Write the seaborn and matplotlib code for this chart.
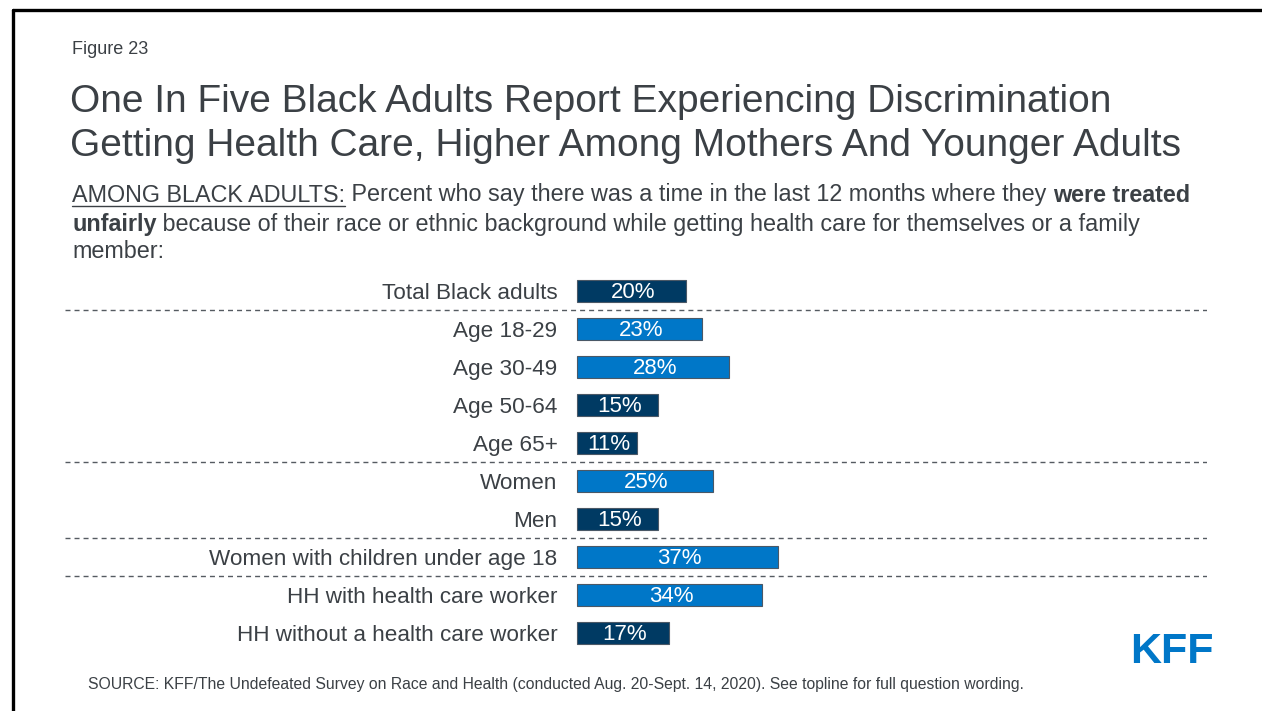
import matplotlib
matplotlib.use("Agg")
import matplotlib.pyplot as plt
from matplotlib.lines import Line2D
import seaborn as sns
import pandas as pd

# Survey results
categories = [
    "Total Black adults", "Age 18-29", "Age 30-49", "Age 50-64", "Age 65+",
    "Women", "Men", "Women with children under age 18",
    "HH with health care worker", "HH without a health care worker",
]
values = [20, 23, 28, 15, 11, 25, 15, 37, 34, 17]
groups = ["dark", "light", "light", "dark", "dark",
          "light", "dark", "light", "light", "dark"]
separators = [0.5, 4.5, 6.5, 7.5]

DARK = "#003a63"
LIGHT = "#0077c8"
TEXT = "#3b4045"

sns.set_theme(style="white")
plt.rcParams["font.family"] = ["Liberation Sans", "DejaVu Sans"]

W, H = 1262, 711
fig = plt.figure(figsize=(W / 100, H / 100), dpi=100)

def fx(px):
    return px / W

def fy(py):
    return 1 - py / H

# Frame lines along the top and left edges
fig.add_artist(Line2D([fx(13), fx(13)], [fy(10), 0], color="black", lw=2.4))
fig.add_artist(Line2D([fx(13), 1], [fy(10), fy(10)], color="black", lw=2.4))

# Header
fig.text(fx(72), fy(50), "Figure 23", fontsize=13, color=TEXT, va="center")
fig.text(fx(70), fy(102), "One In Five Black Adults Report Experiencing Discrimination",
         fontsize=28, color=TEXT, va="center")
fig.text(fx(70), fy(146), "Getting Health Care, Higher Among Mothers And Younger Adults",
         fontsize=28, color=TEXT, va="center")

# Subtitle with mixed styles
renderer = fig.canvas.get_renderer()
sub_lines = [
    [("AMONG BLACK ADULTS:", "u"), (" Percent who say there was a time in the last 12 months where they ", "n"),
     ("were treated", "b")],
    [("unfairly", "b"), (" because of their race or ethnic background while getting health care for themselves or a family", "n")],
    [("member:", "n")],
]
sub_y = [195, 224, 252]
for line, ypx in zip(sub_lines, sub_y):
    xpx = 72
    for txt, style in line:
        t = fig.text(fx(xpx), fy(ypx), txt, fontsize=16.8, color=TEXT, va="center",
                     fontweight="bold" if style == "b" else "normal")
        bb = t.get_window_extent(renderer)
        if style == "u":
            fig.add_artist(Line2D([bb.x0 / W, bb.x1 / W], [fy(ypx + 11), fy(ypx + 11)],
                                  color=TEXT, lw=1.0))
        xpx += bb.width

# Bar chart area: x=0 sits at 577 px, 5.43 px per percentage point
zero_px, scale = 577, 5.43
left_px, right_px = 65, 1207
row0, step = 291, 38
ax = fig.add_axes([fx(left_px), fy(row0 + 9.5 * step), (right_px - left_px) / W,
                   10 * step / H])

df = pd.DataFrame({"category": categories, "value": values, "group": groups})
sns.barplot(data=df, x="value", y="category", hue="group",
            palette={"dark": DARK, "light": LIGHT}, saturation=1, dodge=False,
            legend=False, width=0.58, edgecolor="#4a5866", linewidth=0.8, ax=ax,
            orient="h")

ax.set_xlim(-(zero_px - left_px) / scale, (right_px - zero_px) / scale)
ax.set_ylim(9.5, -0.5)
ax.axis("off")

for i, (cat, v) in enumerate(zip(categories, values)):
    ax.text(-3.6, i + 0.07, cat, ha="right", va="center", fontsize=16.2, color=TEXT)
    ax.text(v / 2 + 0.3, i + 0.05, f"{v}%", ha="center", va="center", fontsize=16,
            color="white")

for s in separators:
    ax.plot([-(zero_px - left_px) / scale, (right_px - zero_px) / scale], [s, s],
            color="#555b61", lw=1.0, ls=(0, (3.6, 2.9)))

# Footer
fig.text(fx(88), fy(684), "SOURCE: KFF/The Undefeated Survey on Race and Health (conducted Aug. 20-Sept. 14, 2020). "
         "See topline for full question wording.", fontsize=11.3, color=TEXT, va="center")
fig.text(fx(1130), fy(652), "KFF", fontsize=31, color=LIGHT, fontweight="bold",
         va="center")

fig.savefig("out.png", dpi=100)
